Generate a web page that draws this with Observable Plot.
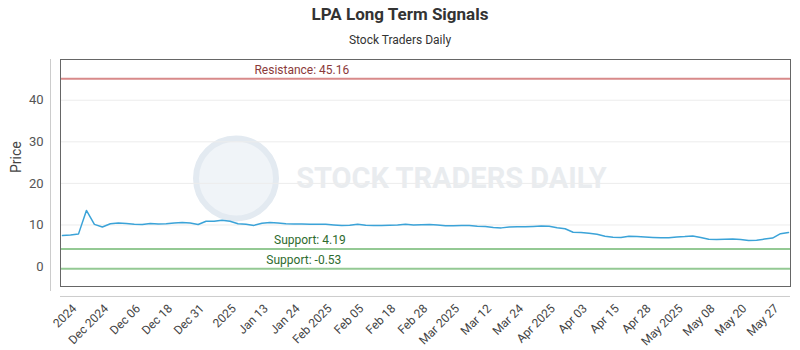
<!DOCTYPE html>
<html>
<head>
<meta charset="utf-8">
<script src="https://cdn.jsdelivr.net/npm/d3@7"></script>
<script src="https://cdn.jsdelivr.net/npm/@observablehq/plot@0.6"></script>
<style>
  body { margin: 0; background: #fff; font-family: Roboto, "Open Sans", sans-serif; }
  #wrap { position: relative; width: 800px; height: 350px; }
  #title { position: absolute; top: 3px; left: 0; width: 800px; text-align: center; font-size: 17px; font-weight: bold; color: #333; line-height: 22px; }
  #subtitle { position: absolute; top: 32px; left: 0; width: 800px; text-align: center; font-size: 12px; color: #333; line-height: 16px; }
  #chart { position: absolute; top: 55px; left: 0; }
</style>
</head>
<body>
<div id="wrap">
  <div id="title">LPA Long Term Signals</div>
  <div id="subtitle">Stock Traders Daily</div>
  <div id="chart"></div>
</div>
<script>
// Price samples (every 2nd point on the chart's index axis)
const prices = [
  7.45, 7.6, 7.8, 13.5, 10.15, 9.5, 10.3, 10.5, 10.35, 10.2,
  10.1, 10.35, 10.25, 10.3, 10.5, 10.6, 10.45, 10.1, 10.9, 10.9,
  11.15, 10.9, 10.3, 10.2, 9.9, 10.4, 10.6, 10.45, 10.3, 10.25,
  10.25, 10.2, 10.2, 10.15, 10.0, 9.85, 9.95, 10.2, 9.95, 9.9,
  9.9, 9.95, 10.0, 10.15, 10.0, 10.05, 10.1, 10.0, 9.8, 9.8,
  9.85, 9.85, 9.7, 9.65, 9.4, 9.3, 9.5, 9.55, 9.55, 9.65,
  9.75, 9.7, 9.35, 9.1, 8.25, 8.2, 8.0, 7.75, 7.3, 7.05,
  7.0, 7.3, 7.2, 7.1, 7.0, 6.9, 6.9, 7.1, 7.2, 7.35,
  7.0, 6.55, 6.5, 6.55, 6.6, 6.5, 6.25, 6.35, 6.6, 6.85,
  7.9, 8.2
];
const sampleStep = 2;

const tickLabels = ["2024","Dec 2024","Dec 06","Dec 18","Dec 31","2025","Jan 13","Jan 24","Feb 2025","Feb 05","Feb 18","Feb 28","Mar 2025","Mar 12","Mar 24","Apr 2025","Apr 03","Apr 15","Apr 28","May 2025","May 08","May 20","May 27"];
const tickPositions = [3,11,19,27,35,43,51,59,67,75,83,91,99,107,115,123,131,139,147,155,163,171,179];

const yTicks = [0, 10, 20, 30, 40];

const resistance = [45.16];
const supports = [4.19, -0.53];
const levelLabels = [
  {text: "Resistance: 45.16", value: 45.16, x: 60, color: "#8b3a3a"},
  {text: "Support: 4.19", value: 4.19, x: 62, color: "#2e6b2e"},
  {text: "Support: -0.53", value: -0.53, x: 60.5, color: "#2e6b2e"}
];

const series = prices.map((p, i) => ({i: i * sampleStep, price: p}));
const xDomain = [-0.5, 182.5];
const yDomain = [-4.8, 49.8];

const chart = Plot.plot({
  width: 800,
  height: 295,
  marginTop: 4,
  marginLeft: 60,
  marginRight: 10,
  marginBottom: 64,
  style: {fontFamily: "Roboto, 'Open Sans', sans-serif", background: "transparent"},
  x: {domain: xDomain},
  y: {domain: yDomain},
  marks: [
    // watermark
    Plot.dot([{x: 43.5, y: 21.2}], {x: "x", y: "y", r: 40, fill: "#f0f4f8", stroke: "#e3eaf1", strokeWidth: 6}),
    Plot.text(["STOCK TRADERS DAILY"], {x: 97.5, y: 21.2, text: d => d, fontSize: 29, fontWeight: "bold", fill: "#e9ecef"}),
    Plot.gridY([10, 20, 30, 40], {stroke: "#ececec", strokeOpacity: 1}),
    Plot.ruleY(resistance, {stroke: "#d88a8a", strokeWidth: 2}),
    Plot.ruleY(supports, {stroke: "#94c994", strokeWidth: 2}),
    Plot.text(levelLabels, {x: "x", y: "value", text: "text", fill: "color", fontSize: 12, dy: -9}),
    Plot.line(series, {x: "i", y: "price", stroke: "#3ba3d8", strokeWidth: 1.5}),
    Plot.frame({stroke: "#666", strokeWidth: 1}),
    // outer decorative axis lines
    Plot.ruleX([xDomain[0]], {y1: yDomain[1], y2: -6, dx: -10, stroke: "#ccc"}),
    Plot.ruleY([-7.2], {x1: xDomain[0], x2: xDomain[1], stroke: "#ccc"}),
    Plot.axisY({ticks: yTicks, tickSize: 0, tickPadding: 17, fontSize: 13, fill: "#555", label: null}),
    Plot.text(["Price"], {frameAnchor: "left", text: d => d, rotate: -90, dx: -44, fontSize: 14, fill: "#444"}),
    Plot.axisX({ticks: tickPositions, tickFormat: d => tickLabels[tickPositions.indexOf(d)], tickRotate: -45, tickSize: 0, tickPadding: 20, fontSize: 12, fill: "#444", label: null})
  ]
});
document.getElementById("chart").appendChild(chart);
</script>
</body>
</html>
